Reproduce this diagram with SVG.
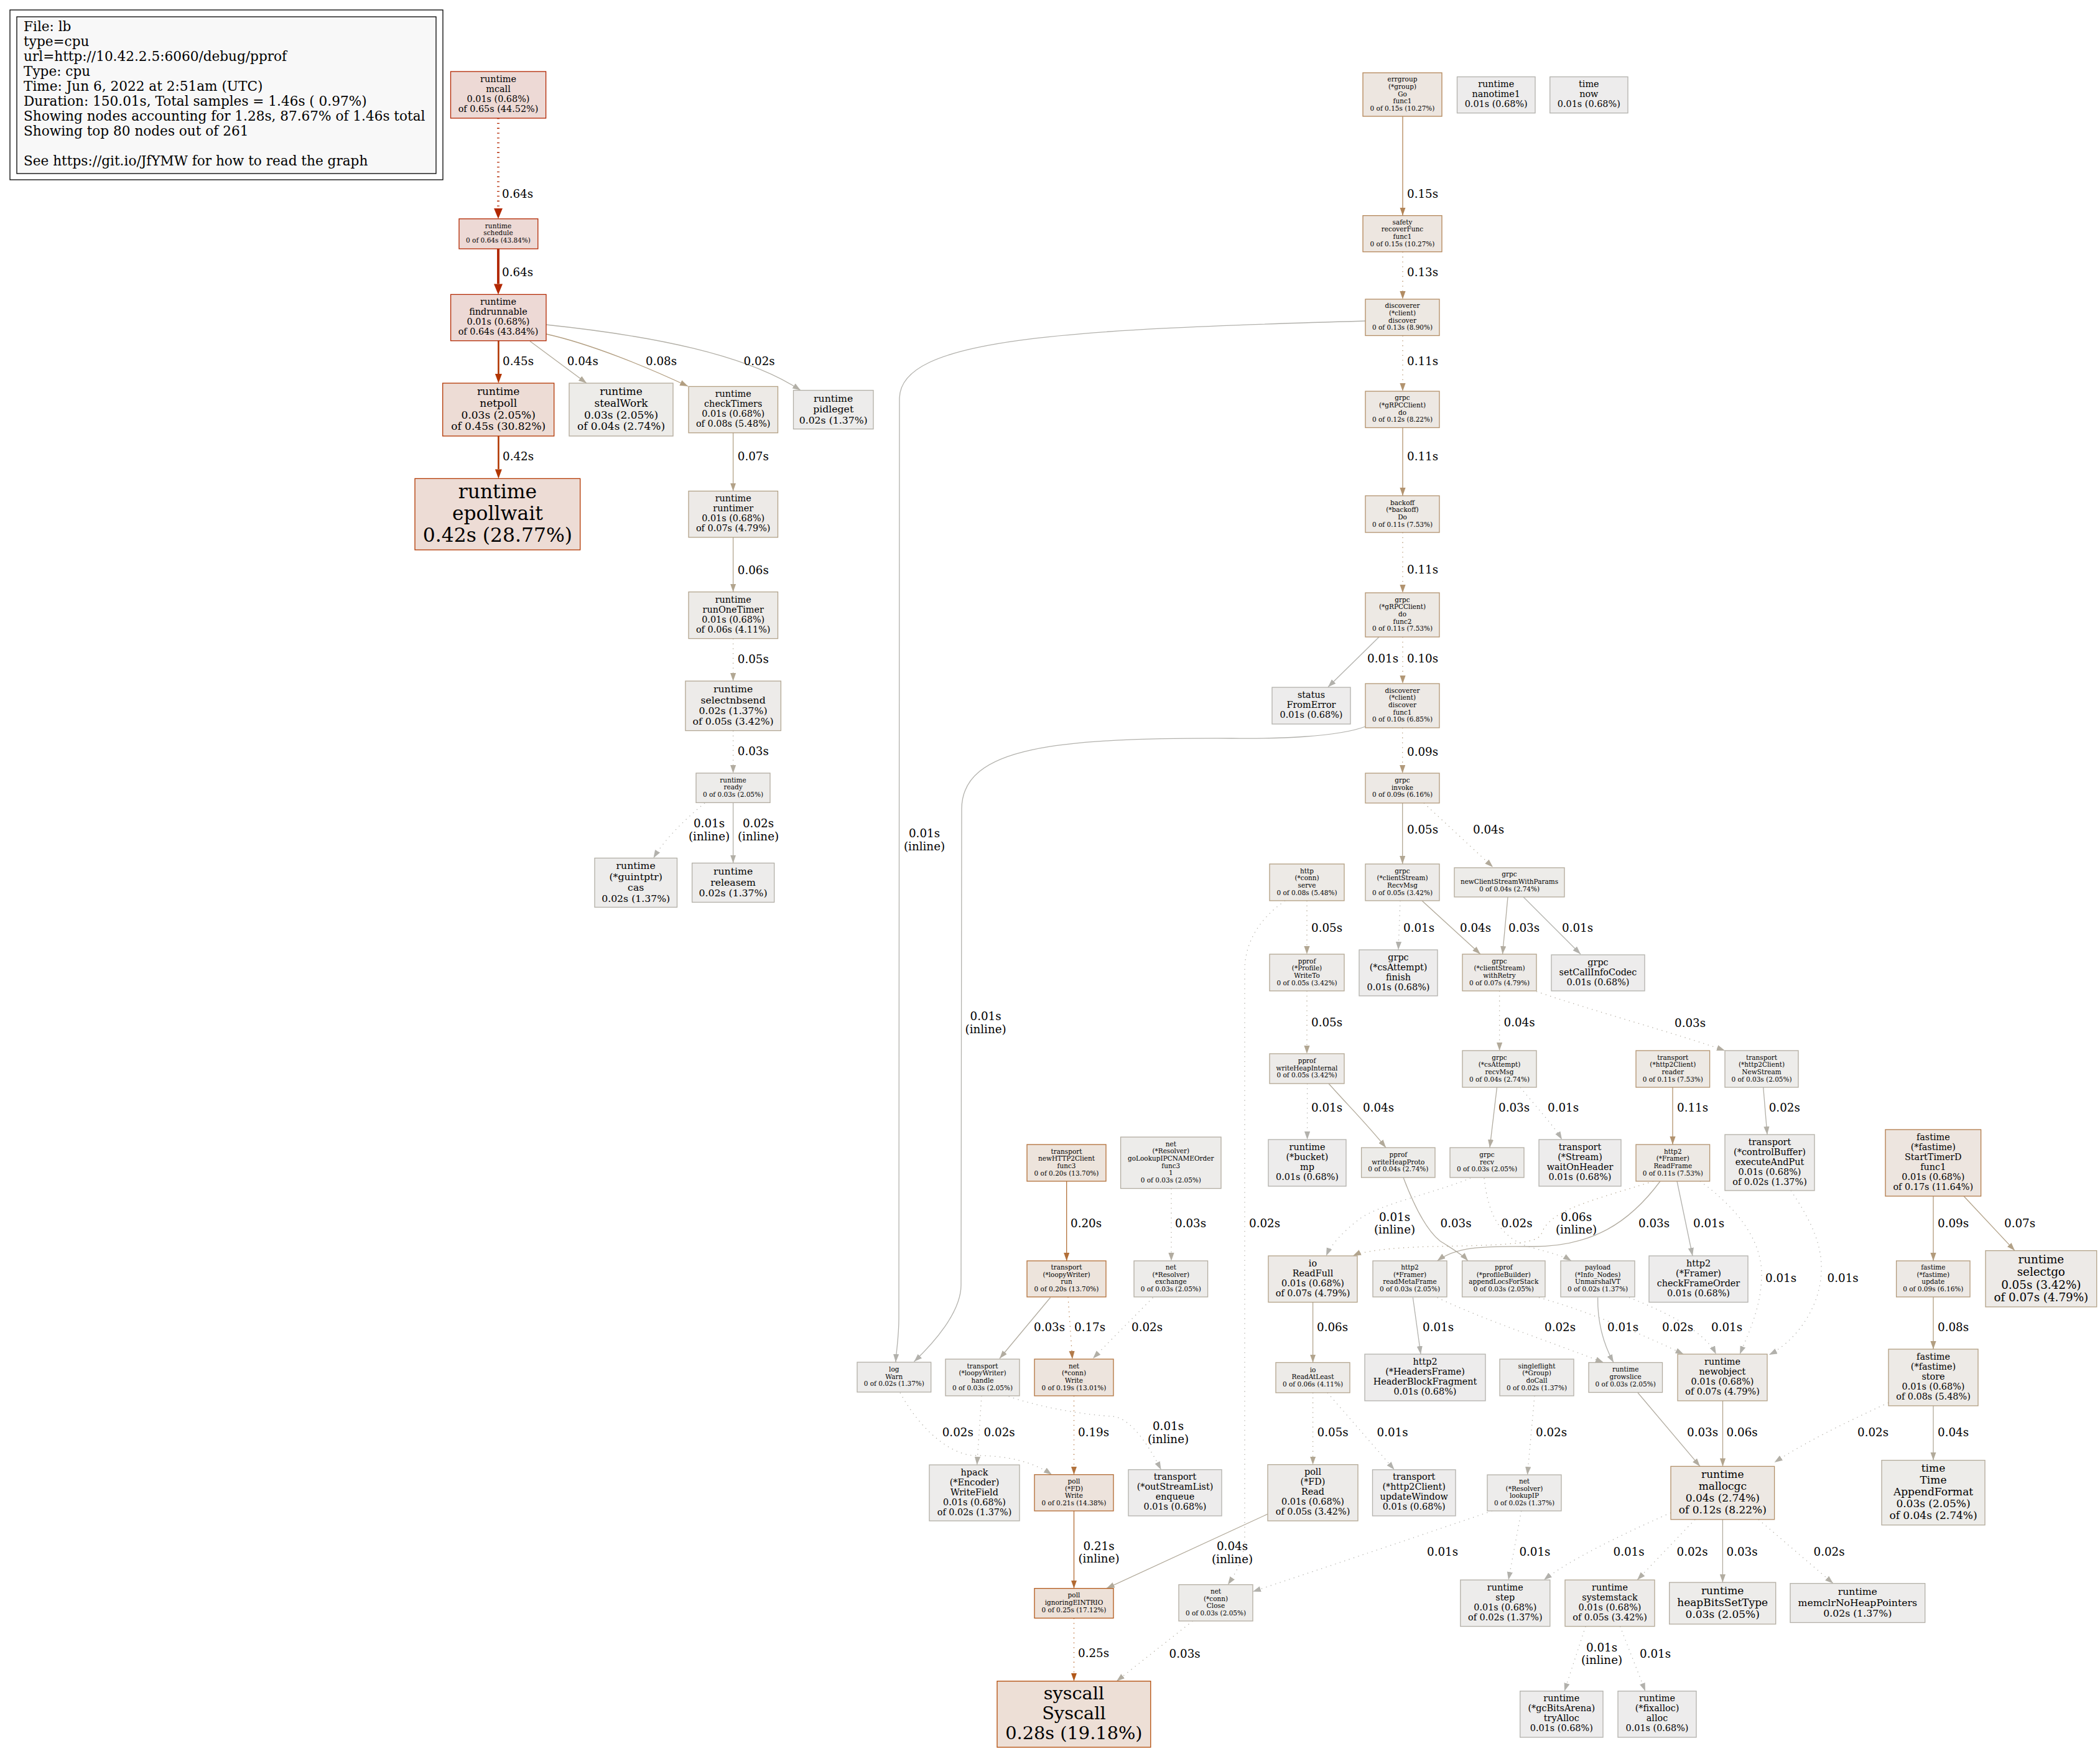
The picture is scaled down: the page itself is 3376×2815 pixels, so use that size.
<svg xmlns="http://www.w3.org/2000/svg" width="3376" height="2815" viewBox="0 0 3376 2815">
<defs>
<style>
text,tspan{font-family:"DejaVu Serif","Liberation Serif",serif;dominant-baseline:central;fill:#000}
.nd text{text-anchor:middle}
.nd rect{stroke-width:1.3}
.f8{font-size:10.5px}.f11{font-size:14.4px}.f12{font-size:15.7px}.f13{font-size:17px}.f14{font-size:18.3px}.f22{font-size:28.8px}.f24{font-size:31.4px}
.el{font-size:18.3px;text-anchor:start}
.el.m{text-anchor:middle}
.lg{font-size:21.6px;text-anchor:start}
.e{fill:none;stroke-width:1.3}
.d{stroke-dasharray:1.3 6.5}
.w3{stroke-width:3.9}.w2{stroke-width:2.6}
.c01 rect{fill:#edecec;stroke:#b2b1ac}.c02 rect{fill:#edeceb;stroke:#b2afa6}.c03 rect{fill:#edecea;stroke:#b2aca0}
.c04 rect{fill:#edece9;stroke:#b2aa9a}.c05 rect{fill:#edebe9;stroke:#b2a793}.c06 rect{fill:#edebe8;stroke:#b2a48d}
.c07 rect{fill:#edeae7;stroke:#b2a187}.c08 rect{fill:#edeae6;stroke:#b29e81}.c09 rect{fill:#ede9e5;stroke:#b29a7b}
.c10 rect{fill:#ede9e5;stroke:#b29775}.c11 rect{fill:#ede9e4;stroke:#b2936f}.c12 rect{fill:#ede8e3;stroke:#b28f69}
.c13 rect{fill:#ede8e2;stroke:#b28c63}.c15 rect{fill:#ede6e0;stroke:#b28456}.c17 rect{fill:#ede5df;stroke:#b27b4a}
.c19 rect{fill:#ede4dd;stroke:#b2733e}.c20 rect{fill:#ede4dc;stroke:#b26f38}.c21 rect{fill:#ede3dc;stroke:#b26a32}
.c25 rect{fill:#ede1d8;stroke:#b25819}.c28 rect{fill:#eddfd6;stroke:#b24a07}.c42 rect{fill:#eddcd5;stroke:#b23700}
.c45 rect{fill:#eddcd5;stroke:#b23500}.c64 rect{fill:#edd9d5;stroke:#b22700}.c65 rect{fill:#edd9d5;stroke:#b22600}
.k01{stroke:#b2b1ac;marker-end:url(#a01)}.k02{stroke:#b2afa6;marker-end:url(#a02)}.k03{stroke:#b2aca0;marker-end:url(#a03)}
.k04{stroke:#b2aa9a;marker-end:url(#a04)}.k05{stroke:#b2a793;marker-end:url(#a05)}.k06{stroke:#b2a48d;marker-end:url(#a06)}
.k07{stroke:#b2a187;marker-end:url(#a07)}.k08{stroke:#b29e81;marker-end:url(#a08)}.k09{stroke:#b29a7b;marker-end:url(#a09)}
.k10{stroke:#b29775;marker-end:url(#a10)}.k11{stroke:#b2936f;marker-end:url(#a11)}.k13{stroke:#b28c63;marker-end:url(#a13)}
.k15{stroke:#b28456;marker-end:url(#a15)}.k17{stroke:#b27b4a;marker-end:url(#a17)}.k19{stroke:#b2733e;marker-end:url(#a19)}
.k20{stroke:#b26f38;marker-end:url(#a20)}.k21{stroke:#b26a32;marker-end:url(#a21)}.k25{stroke:#b25819;marker-end:url(#a25)}
.k42{stroke:#b23700;marker-end:url(#a42)}.k45{stroke:#b23500;marker-end:url(#a45)}.k64{stroke:#b22700;marker-end:url(#a64)}
</style>
<marker id="a01" markerUnits="userSpaceOnUse" markerWidth="16" markerHeight="12" refX="13" refY="4.6" orient="auto"><path d="M0,0L13,4.6L0,9.2z" fill="#b2b1ac"/></marker>
<marker id="a02" markerUnits="userSpaceOnUse" markerWidth="16" markerHeight="12" refX="13" refY="4.6" orient="auto"><path d="M0,0L13,4.6L0,9.2z" fill="#b2afa6"/></marker>
<marker id="a03" markerUnits="userSpaceOnUse" markerWidth="16" markerHeight="12" refX="13" refY="4.6" orient="auto"><path d="M0,0L13,4.6L0,9.2z" fill="#b2aca0"/></marker>
<marker id="a04" markerUnits="userSpaceOnUse" markerWidth="16" markerHeight="12" refX="13" refY="4.6" orient="auto"><path d="M0,0L13,4.6L0,9.2z" fill="#b2aa9a"/></marker>
<marker id="a05" markerUnits="userSpaceOnUse" markerWidth="16" markerHeight="12" refX="13" refY="4.6" orient="auto"><path d="M0,0L13,4.6L0,9.2z" fill="#b2a793"/></marker>
<marker id="a06" markerUnits="userSpaceOnUse" markerWidth="16" markerHeight="12" refX="13" refY="4.6" orient="auto"><path d="M0,0L13,4.6L0,9.2z" fill="#b2a48d"/></marker>
<marker id="a07" markerUnits="userSpaceOnUse" markerWidth="16" markerHeight="12" refX="13" refY="4.6" orient="auto"><path d="M0,0L13,4.6L0,9.2z" fill="#b2a187"/></marker>
<marker id="a08" markerUnits="userSpaceOnUse" markerWidth="16" markerHeight="12" refX="13" refY="4.6" orient="auto"><path d="M0,0L13,4.6L0,9.2z" fill="#b29e81"/></marker>
<marker id="a09" markerUnits="userSpaceOnUse" markerWidth="16" markerHeight="12" refX="13" refY="4.6" orient="auto"><path d="M0,0L13,4.6L0,9.2z" fill="#b29a7b"/></marker>
<marker id="a10" markerUnits="userSpaceOnUse" markerWidth="16" markerHeight="12" refX="13" refY="4.6" orient="auto"><path d="M0,0L13,4.6L0,9.2z" fill="#b29775"/></marker>
<marker id="a11" markerUnits="userSpaceOnUse" markerWidth="16" markerHeight="12" refX="13" refY="4.6" orient="auto"><path d="M0,0L13,4.6L0,9.2z" fill="#b2936f"/></marker>
<marker id="a13" markerUnits="userSpaceOnUse" markerWidth="16" markerHeight="12" refX="13" refY="4.6" orient="auto"><path d="M0,0L13,4.6L0,9.2z" fill="#b28c63"/></marker>
<marker id="a15" markerUnits="userSpaceOnUse" markerWidth="16" markerHeight="12" refX="13" refY="4.6" orient="auto"><path d="M0,0L13,4.6L0,9.2z" fill="#b28456"/></marker>
<marker id="a17" markerUnits="userSpaceOnUse" markerWidth="16" markerHeight="12" refX="13" refY="4.6" orient="auto"><path d="M0,0L13,4.6L0,9.2z" fill="#b27b4a"/></marker>
<marker id="a19" markerUnits="userSpaceOnUse" markerWidth="16" markerHeight="12" refX="13" refY="4.6" orient="auto"><path d="M0,0L13,4.6L0,9.2z" fill="#b2733e"/></marker>
<marker id="a20" markerUnits="userSpaceOnUse" markerWidth="16" markerHeight="12" refX="13" refY="4.6" orient="auto"><path d="M0,0L13,4.6L0,9.2z" fill="#b26f38"/></marker>
<marker id="a21" markerUnits="userSpaceOnUse" markerWidth="16" markerHeight="12" refX="13" refY="4.6" orient="auto"><path d="M0,0L13,4.6L0,9.2z" fill="#b26a32"/></marker>
<marker id="a25" markerUnits="userSpaceOnUse" markerWidth="16" markerHeight="12" refX="13" refY="4.6" orient="auto"><path d="M0,0L13,4.6L0,9.2z" fill="#b25819"/></marker>
<marker id="a42" markerUnits="userSpaceOnUse" markerWidth="16" markerHeight="12" refX="0" refY="5.5" orient="auto"><path d="M0,0L15,5.5L0,11z" fill="#b23700"/></marker>
<marker id="a45" markerUnits="userSpaceOnUse" markerWidth="16" markerHeight="12" refX="0" refY="5.5" orient="auto"><path d="M0,0L15,5.5L0,11z" fill="#b23500"/></marker>
<marker id="a64" markerUnits="userSpaceOnUse" markerWidth="18" markerHeight="15" refX="0" refY="7" orient="auto"><path d="M0,0L17,7L0,14z" fill="#b22700"/></marker>
</defs>
<rect x="0" y="0" width="3376" height="2815" fill="#fff"/>
<g id="legend">
<rect x="16" y="16" width="696" height="273" fill="#fff" stroke="#000" stroke-width="1.3"/>
<rect x="27" y="27" width="674" height="252" fill="#f8f8f8" stroke="#000" stroke-width="1.3"/>
<text class="lg" x="38" y="42"><tspan x="38">File: lb</tspan><tspan x="38" dy="24">type=cpu</tspan><tspan x="38" dy="24">url=http://10.42.2.5:6060/debug/pprof</tspan><tspan x="38" dy="24">Type: cpu</tspan><tspan x="38" dy="24">Time: Jun 6, 2022 at 2:51am (UTC)</tspan><tspan x="38" dy="24">Duration: 150.01s, Total samples = 1.46s ( 0.97%)</tspan><tspan x="38" dy="24">Showing nodes accounting for 1.28s, 87.67% of 1.46s total</tspan><tspan x="38" dy="24">Showing top 80 nodes out of 261</tspan><tspan x="38" dy="48">See https://git.io/JfYMW for how to read the graph</tspan></text>
</g>
<g id="edges">
<path class="e d w3 k64" d="M801,190V334.8"/>
<path class="e w3 k64" d="M801,400V456.4"/>
<path class="e w2 k45" d="M801.4,547.8V601"/>
<path class="e w2 k42" d="M801.4,701V754.4"/>
<path class="e k04" d="M852,548.4L943,616"/>
<path class="e k08" d="M878,537C950,553 1040,590 1106,621"/>
<path class="e k02" d="M878,522C1050,540 1200,570 1287,627.5"/>
<path class="e k07" d="M1178.6,695.8V789.5"/>
<path class="e k06" d="M1178.6,863.8V951.6"/>
<path class="e d k05" d="M1178.6,1026.6V1094.9"/>
<path class="e d k03" d="M1178.6,1174.6V1242.9"/>
<path class="e d k01" d="M1133,1291C1100,1318 1068,1350 1050.5,1379.5"/>
<path class="e k02" d="M1178.6,1290.4V1387.5"/>
<path class="e k15" d="M2255,187V346.6"/>
<path class="e d k13" d="M2255,404.8V481"/>
<path class="e d k11" d="M2255,539.5V629"/>
<path class="e k11" d="M2255,687.5V797"/>
<path class="e d k11" d="M2255,856V953"/>
<path class="e k01" d="M2217,1024L2135,1104.5"/>
<path class="e d k10" d="M2255,1024V1099"/>
<path class="e k01" d="M2195,516C1700,530 1448,545 1446,640L1445,2120C1445,2150 1441,2170 1440,2190"/>
<path class="e k01" d="M2195,1168C2150,1185 2050,1188 1980,1187C1700,1186 1547,1200 1546,1300L1545,2066C1545,2110 1500,2160 1469.5,2189"/>
<path class="e d k09" d="M2254.7,1170V1243"/>
<path class="e k05" d="M2254.7,1291V1389"/>
<path class="e d k04" d="M2289,1291L2400,1394"/>
<path class="e d k05" d="M2101,1448V1534"/>
<path class="e d k02" d="M2066,1448C2020,1480 2001,1520 2001,1560L2001,2470C2001,2505 1987,2528 1974,2547.6"/>
<path class="e d k01" d="M2251,1448L2248,1527"/>
<path class="e k04" d="M2286,1448L2380,1534"/>
<path class="e k03" d="M2424,1442L2415.5,1534"/>
<path class="e k01" d="M2449,1442L2541,1534"/>
<path class="e d k05" d="M2101,1593V1694"/>
<path class="e d k04" d="M2410.6,1593V1689"/>
<path class="e d k03" d="M2470,1594C2560,1625 2690,1660 2773,1689"/>
<path class="e d k01" d="M2101.6,1742V1832"/>
<path class="e k04" d="M2136,1742C2170,1780 2200,1810 2228,1845"/>
<path class="e k03" d="M2406.5,1748L2395,1845"/>
<path class="e d k01" d="M2444,1748C2470,1780 2498,1810 2511,1832"/>
<path class="e k11" d="M2689,1748V1840"/>
<path class="e k02" d="M2834.7,1748L2841,1824"/>
<path class="e k03" d="M2256,1893C2270,1930 2290,1975 2315,1995C2335,2008 2350,2016 2360,2027"/>
<path class="e d k01" d="M2364,1894C2300,1920 2220,1935 2185,1960C2160,1980 2140,2000 2132,2019"/>
<path class="e d k02" d="M2386,1894C2392,1950 2410,1990 2460,2005C2490,2013 2515,2020 2526,2027"/>
<path class="e d k06" d="M2658,1899C2560,1930 2490,1945 2478,1984C2470,2000 2420,2002 2300,2004C2230,2006 2190,2012 2175,2019"/>
<path class="e k03" d="M2669,1899C2620,1965 2560,2005 2460,2004C2380,2003 2340,2005 2310.6,2027"/>
<path class="e k01" d="M2696,1899L2721,2019"/>
<path class="e d k01" d="M2733,1899C2790,1940 2830,1990 2832,2045C2833,2100 2810,2145 2797,2177"/>
<path class="e d k01" d="M2879,1914C2910,1960 2930,2000 2928,2045C2925,2110 2880,2160 2844,2178"/>
<path class="e k09" d="M3108,1923V2027"/>
<path class="e k07" d="M3157,1923L3239,2010.6"/>
<path class="e k20" d="M1714.7,1899V2027"/>
<path class="e d k03" d="M1883,1910.6V2027"/>
<path class="e k03" d="M1688.6,2086L1607,2184"/>
<path class="e d k17" d="M1717,2085L1724,2185"/>
<path class="e d k02" d="M1853.5,2086C1820,2120 1790,2150 1757,2184"/>
<path class="e k06" d="M2110.6,2093.5V2190.5"/>
<path class="e k01" d="M2271.4,2086L2284,2177"/>
<path class="e d k02" d="M2310.6,2086C2380,2120 2500,2160 2578,2190.5"/>
<path class="e d k02" d="M2474,2086C2560,2110 2650,2150 2706.5,2177"/>
<path class="e k01" d="M2568.6,2086C2568,2130 2580,2165 2594,2190.5"/>
<path class="e d k01" d="M2619,2086C2680,2110 2740,2140 2758.8,2177"/>
<path class="e k08" d="M3108,2085V2169"/>
<path class="e k04" d="M3108,2260V2347.6"/>
<path class="e d k02" d="M3036,2255C2960,2290 2900,2320 2852.6,2351"/>
<path class="e k06" d="M2769.5,2252V2357.4"/>
<path class="e k03" d="M2633,2239L2733,2357.4"/>
<path class="e d k02" d="M1447,2239C1480,2300 1530,2340 1568,2340C1620,2340 1660,2350 1691,2370.7"/>
<path class="e d k02" d="M1578,2244L1570.6,2355"/>
<path class="e d k01" d="M1621.6,2245C1680,2265 1750,2275 1789,2277C1820,2280 1850,2330 1866.5,2362.7"/>
<path class="e d k19" d="M1726.5,2244V2370.7"/>
<path class="e d k05" d="M2110.6,2239V2354.6"/>
<path class="e d k01" d="M2134,2239L2241.6,2362.8"/>
<path class="e d k02" d="M2467,2244L2455.5,2371"/>
<path class="e k21" d="M1726.5,2429V2553.6"/>
<path class="e k04" d="M2038,2434L1778.8,2553.6"/>
<path class="e d k01" d="M2398.8,2429C2250,2480 2100,2530 2014,2558.7"/>
<path class="e d k01" d="M2445.7,2429L2425,2540"/>
<path class="e d k01" d="M2686,2432C2600,2470 2520,2510 2482,2540"/>
<path class="e d k02" d="M2725,2442.8L2632,2540"/>
<path class="e k03" d="M2769.4,2442.8V2544"/>
<path class="e d k02" d="M2827,2442.8L2947,2545.6"/>
<path class="e d k25" d="M1726.5,2601.4V2702.7"/>
<path class="e d k03" d="M1917.5,2606L1795,2702.7"/>
<path class="e d k01" d="M2549,2614.6L2515,2718.7"/>
<path class="e d k01" d="M2604.5,2614.6L2645,2718.7"/>
</g>
<g id="edge-labels">
<text class="el" x="807" y="311.6">0.64s</text>
<text class="el" x="807" y="437.5">0.64s</text>
<text class="el" x="808" y="580.6">0.45s</text>
<text class="el" x="911.7" y="580.6">0.04s</text>
<text class="el" x="1038" y="580.6">0.08s</text>
<text class="el" x="1195.6" y="580.6">0.02s</text>
<text class="el" x="808" y="733">0.42s</text>
<text class="el" x="1185.8" y="733">0.07s</text>
<text class="el" x="1185.8" y="916">0.06s</text>
<text class="el" x="1185.8" y="1059">0.05s</text>
<text class="el" x="1185.8" y="1207">0.03s</text>
<text class="el m" x="1140" y="1323"><tspan x="1140">0.01s</tspan><tspan x="1140" dy="21">(inline)</tspan></text>
<text class="el m" x="1219" y="1323"><tspan x="1219">0.02s</tspan><tspan x="1219" dy="21">(inline)</tspan></text>
<text class="el" x="2262" y="311.5">0.15s</text>
<text class="el" x="2262" y="437.8">0.13s</text>
<text class="el" x="2262" y="580">0.11s</text>
<text class="el" x="2262" y="733">0.11s</text>
<text class="el" x="2262" y="915.5">0.11s</text>
<text class="el" x="2198" y="1058.6">0.01s</text>
<text class="el" x="2262" y="1058.6">0.10s</text>
<text class="el m" x="1486" y="1339"><tspan x="1486">0.01s</tspan><tspan x="1486" dy="21">(inline)</tspan></text>
<text class="el m" x="1584.6" y="1633"><tspan x="1584.6">0.01s</tspan><tspan x="1584.6" dy="21">(inline)</tspan></text>
<text class="el" x="2262" y="1208">0.09s</text>
<text class="el" x="2262" y="1333">0.05s</text>
<text class="el" x="2368" y="1333">0.04s</text>
<text class="el" x="2108" y="1491">0.05s</text>
<text class="el" x="2008" y="1966">0.02s</text>
<text class="el" x="2256" y="1491">0.01s</text>
<text class="el" x="2347" y="1491">0.04s</text>
<text class="el" x="2425" y="1491">0.03s</text>
<text class="el" x="2511" y="1491">0.01s</text>
<text class="el" x="2108" y="1643">0.05s</text>
<text class="el" x="2417.5" y="1643">0.04s</text>
<text class="el" x="2692" y="1644">0.03s</text>
<text class="el" x="2108" y="1780">0.01s</text>
<text class="el" x="2191" y="1780">0.04s</text>
<text class="el" x="2409" y="1780">0.03s</text>
<text class="el" x="2488" y="1780">0.01s</text>
<text class="el" x="2696" y="1780">0.11s</text>
<text class="el" x="2843.7" y="1780">0.02s</text>
<text class="el" x="2315.5" y="1966">0.03s</text>
<text class="el m" x="2242" y="1955.5"><tspan x="2242">0.01s</tspan><tspan x="2242" dy="20.5">(inline)</tspan></text>
<text class="el" x="2413.5" y="1966">0.02s</text>
<text class="el m" x="2534" y="1955.5"><tspan x="2534">0.06s</tspan><tspan x="2534" dy="20.5">(inline)</tspan></text>
<text class="el" x="2634" y="1966">0.03s</text>
<text class="el" x="2722" y="1966">0.01s</text>
<text class="el" x="2838" y="2054">0.01s</text>
<text class="el" x="2937.6" y="2054">0.01s</text>
<text class="el" x="3115" y="1966">0.09s</text>
<text class="el" x="3222" y="1966">0.07s</text>
<text class="el" x="1721" y="1966">0.20s</text>
<text class="el" x="1889" y="1966">0.03s</text>
<text class="el" x="1662" y="2133.5">0.03s</text>
<text class="el" x="1727" y="2133.5">0.17s</text>
<text class="el" x="1819" y="2133.5">0.02s</text>
<text class="el" x="2117" y="2133.5">0.06s</text>
<text class="el" x="2287" y="2133.5">0.01s</text>
<text class="el" x="2483" y="2133.5">0.02s</text>
<text class="el" x="2672" y="2133.5">0.02s</text>
<text class="el" x="2584" y="2133.5">0.01s</text>
<text class="el" x="2751" y="2133.5">0.01s</text>
<text class="el" x="3115" y="2133.5">0.08s</text>
<text class="el" x="3115" y="2302">0.04s</text>
<text class="el" x="2986" y="2302">0.02s</text>
<text class="el" x="2775.6" y="2302">0.06s</text>
<text class="el" x="2712" y="2302.8">0.03s</text>
<text class="el" x="1514.7" y="2302.7">0.02s</text>
<text class="el" x="1581.6" y="2302.7">0.02s</text>
<text class="el m" x="1878" y="2292"><tspan x="1878">0.01s</tspan><tspan x="1878" dy="21">(inline)</tspan></text>
<text class="el" x="1733" y="2302.7">0.19s</text>
<text class="el" x="2117.6" y="2302.8">0.05s</text>
<text class="el" x="2213.5" y="2302.8">0.01s</text>
<text class="el" x="2469" y="2302.8">0.02s</text>
<text class="el m" x="1766.5" y="2484.5"><tspan x="1766.5">0.21s</tspan><tspan x="1766.5" dy="20.5">(inline)</tspan></text>
<text class="el m" x="1981" y="2485"><tspan x="1981">0.04s</tspan><tspan x="1981" dy="20.5">(inline)</tspan></text>
<text class="el" x="2294" y="2494.6">0.01s</text>
<text class="el" x="2442.4" y="2494.6">0.01s</text>
<text class="el" x="2593.5" y="2494.6">0.01s</text>
<text class="el" x="2695.5" y="2494.6">0.02s</text>
<text class="el" x="2775.5" y="2494.6">0.03s</text>
<text class="el" x="2915.5" y="2494.6">0.02s</text>
<text class="el" x="1733" y="2657.6">0.25s</text>
<text class="el" x="1879.6" y="2658">0.03s</text>
<text class="el m" x="2575" y="2647.6"><tspan x="2575">0.01s</tspan><tspan x="2575" dy="20.5">(inline)</tspan></text>
<text class="el" x="2636" y="2658">0.01s</text>
</g>
<g id="node-mcall" class="nd c65"><rect x="724.5" y="115" width="153.1" height="75"/><text class="f11" x="801" y="127"><tspan x="801">runtime</tspan><tspan x="801" dy="16">mcall</tspan><tspan x="801" dy="16">0.01s (0.68%)</tspan><tspan x="801" dy="16">of 0.65s (44.52%)</tspan></text></g>
<g id="node-schedule" class="nd c64"><rect x="738" y="351.8" width="126.8" height="48.2"/><text class="f8" x="801" y="362.7"><tspan x="801">runtime</tspan><tspan x="801" dy="11.7">schedule</tspan><tspan x="801" dy="11.7">0 of 0.64s (43.84%)</tspan></text></g>
<g id="node-findrunnable" class="nd c64"><rect x="724.6" y="473.4" width="153.4" height="74.4"/><text class="f11" x="801" y="485.1"><tspan x="801">runtime</tspan><tspan x="801" dy="16">findrunnable</tspan><tspan x="801" dy="16">0.01s (0.68%)</tspan><tspan x="801" dy="16">of 0.64s (43.84%)</tspan></text></g>
<g id="node-netpoll" class="nd c45"><rect x="711.7" y="616" width="179" height="85"/><text class="f13" x="801.2" y="628.7"><tspan x="801.2">runtime</tspan><tspan x="801.2" dy="18.9">netpoll</tspan><tspan x="801.2" dy="18.9">0.03s (2.05%)</tspan><tspan x="801.2" dy="18.9">of 0.45s (30.82%)</tspan></text></g>
<g id="node-stealWork" class="nd c04"><rect x="915" y="616" width="167" height="85"/><text class="f13" x="998.5" y="628.7"><tspan x="998.5">runtime</tspan><tspan x="998.5" dy="18.9">stealWork</tspan><tspan x="998.5" dy="18.9">0.03s (2.05%)</tspan><tspan x="998.5" dy="18.9">of 0.04s (2.74%)</tspan></text></g>
<g id="node-checkTimers" class="nd c08"><rect x="1107" y="621.4" width="143.5" height="74.4"/><text class="f11" x="1178.7" y="633.1"><tspan x="1178.7">runtime</tspan><tspan x="1178.7" dy="16">checkTimers</tspan><tspan x="1178.7" dy="16">0.01s (0.68%)</tspan><tspan x="1178.7" dy="16">of 0.08s (5.48%)</tspan></text></g>
<g id="node-pidleget" class="nd c02"><rect x="1275.5" y="627.5" width="128.5" height="62.2"/><text class="f12" x="1339.7" y="639.7"><tspan x="1339.7">runtime</tspan><tspan x="1339.7" dy="17.4">pidleget</tspan><tspan x="1339.7" dy="17.4">0.02s (1.37%)</tspan></text></g>
<g id="node-epollwait" class="nd c42"><rect x="667" y="769.4" width="265.7" height="114.6"/><text class="f24" x="799.9" y="790.2"><tspan x="799.9">runtime</tspan><tspan x="799.9" dy="35">epollwait</tspan><tspan x="799.9" dy="35">0.42s (28.77%)</tspan></text></g>
<g id="node-runtimer" class="nd c07"><rect x="1107" y="789.5" width="143.5" height="74.3"/><text class="f11" x="1178.7" y="801.2"><tspan x="1178.7">runtime</tspan><tspan x="1178.7" dy="16">runtimer</tspan><tspan x="1178.7" dy="16">0.01s (0.68%)</tspan><tspan x="1178.7" dy="16">of 0.07s (4.79%)</tspan></text></g>
<g id="node-runOneTimer" class="nd c06"><rect x="1107" y="951.6" width="143.5" height="75"/><text class="f11" x="1178.7" y="963.6"><tspan x="1178.7">runtime</tspan><tspan x="1178.7" dy="16">runOneTimer</tspan><tspan x="1178.7" dy="16">0.01s (0.68%)</tspan><tspan x="1178.7" dy="16">of 0.06s (4.11%)</tspan></text></g>
<g id="node-selectnbsend" class="nd c05"><rect x="1101.9" y="1094.9" width="153.5" height="79.7"/><text class="f12" x="1178.6" y="1107.2"><tspan x="1178.6">runtime</tspan><tspan x="1178.6" dy="17.4">selectnbsend</tspan><tspan x="1178.6" dy="17.4">0.02s (1.37%)</tspan><tspan x="1178.6" dy="17.4">of 0.05s (3.42%)</tspan></text></g>
<g id="node-ready" class="nd c03"><rect x="1119" y="1242.9" width="119" height="47.5"/><text class="f8" x="1178.5" y="1253.5"><tspan x="1178.5">runtime</tspan><tspan x="1178.5" dy="11.7">ready</tspan><tspan x="1178.5" dy="11.7">0 of 0.03s (2.05%)</tspan></text></g>
<g id="node-cas" class="nd c02"><rect x="956" y="1379.5" width="132.5" height="79"/><text class="f12" x="1022.2" y="1391.4"><tspan x="1022.2">runtime</tspan><tspan x="1022.2" dy="17.4">(*guintptr)</tspan><tspan x="1022.2" dy="17.4">cas</tspan><tspan x="1022.2" dy="17.4">0.02s (1.37%)</tspan></text></g>
<g id="node-releasem" class="nd c02"><rect x="1112.6" y="1387.5" width="132.1" height="63"/><text class="f12" x="1178.6" y="1400.1"><tspan x="1178.6">runtime</tspan><tspan x="1178.6" dy="17.4">releasem</tspan><tspan x="1178.6" dy="17.4">0.02s (1.37%)</tspan></text></g>
<g id="node-errgroup" class="nd c15"><rect x="2191" y="117" width="127" height="70"/><text class="f8" x="2254.5" y="127.1"><tspan x="2254.5">errgroup</tspan><tspan x="2254.5" dy="11.7">(*group)</tspan><tspan x="2254.5" dy="11.7">Go</tspan><tspan x="2254.5" dy="11.7">func1</tspan><tspan x="2254.5" dy="11.7">0 of 0.15s (10.27%)</tspan></text></g>
<g id="node-nanotime1" class="nd c01"><rect x="2342.5" y="123.5" width="125.5" height="58.2"/><text class="f11" x="2405.2" y="135.1"><tspan x="2405.2">runtime</tspan><tspan x="2405.2" dy="16">nanotime1</tspan><tspan x="2405.2" dy="16">0.01s (0.68%)</tspan></text></g>
<g id="node-timenow" class="nd c01"><rect x="2491.7" y="123.5" width="125.3" height="58.2"/><text class="f11" x="2554.3" y="135.1"><tspan x="2554.3">time</tspan><tspan x="2554.3" dy="16">now</tspan><tspan x="2554.3" dy="16">0.01s (0.68%)</tspan></text></g>
<g id="node-safety" class="nd c15"><rect x="2191" y="346.6" width="127" height="58.2"/><text class="f8" x="2254.5" y="356.7"><tspan x="2254.5">safety</tspan><tspan x="2254.5" dy="11.7">recoverFunc</tspan><tspan x="2254.5" dy="11.7">func1</tspan><tspan x="2254.5" dy="11.7">0 of 0.15s (10.27%)</tspan></text></g>
<g id="node-discover" class="nd c13"><rect x="2195" y="481" width="119" height="58.5"/><text class="f8" x="2254.5" y="491.2"><tspan x="2254.5">discoverer</tspan><tspan x="2254.5" dy="11.7">(*client)</tspan><tspan x="2254.5" dy="11.7">discover</tspan><tspan x="2254.5" dy="11.7">0 of 0.13s (8.90%)</tspan></text></g>
<g id="node-grpcdo" class="nd c12"><rect x="2195" y="629" width="119" height="58.5"/><text class="f8" x="2254.5" y="639.2"><tspan x="2254.5">grpc</tspan><tspan x="2254.5" dy="11.7">(*gRPCClient)</tspan><tspan x="2254.5" dy="11.7">do</tspan><tspan x="2254.5" dy="11.7">0 of 0.12s (8.22%)</tspan></text></g>
<g id="node-backoff" class="nd c11"><rect x="2195" y="797" width="119" height="59"/><text class="f8" x="2254.5" y="807.5"><tspan x="2254.5">backoff</tspan><tspan x="2254.5" dy="11.7">(*backoff)</tspan><tspan x="2254.5" dy="11.7">Do</tspan><tspan x="2254.5" dy="11.7">0 of 0.11s (7.53%)</tspan></text></g>
<g id="node-dofunc2" class="nd c11"><rect x="2195" y="953" width="119" height="71"/><text class="f8" x="2254.5" y="963.6"><tspan x="2254.5">grpc</tspan><tspan x="2254.5" dy="11.7">(*gRPCClient)</tspan><tspan x="2254.5" dy="11.7">do</tspan><tspan x="2254.5" dy="11.7">func2</tspan><tspan x="2254.5" dy="11.7">0 of 0.11s (7.53%)</tspan></text></g>
<g id="node-FromError" class="nd c01"><rect x="2045" y="1105" width="126" height="59"/><text class="f11" x="2108" y="1117"><tspan x="2108">status</tspan><tspan x="2108" dy="16">FromError</tspan><tspan x="2108" dy="16">0.01s (0.68%)</tspan></text></g>
<g id="node-discoverfunc1" class="nd c10"><rect x="2195" y="1099" width="119" height="71"/><text class="f8" x="2254.5" y="1109.6"><tspan x="2254.5">discoverer</tspan><tspan x="2254.5" dy="11.7">(*client)</tspan><tspan x="2254.5" dy="11.7">discover</tspan><tspan x="2254.5" dy="11.7">func1</tspan><tspan x="2254.5" dy="11.7">0 of 0.10s (6.85%)</tspan></text></g>
<g id="node-invoke" class="nd c09"><rect x="2195" y="1243" width="119" height="48"/><text class="f8" x="2254.5" y="1253.8"><tspan x="2254.5">grpc</tspan><tspan x="2254.5" dy="11.7">invoke</tspan><tspan x="2254.5" dy="11.7">0 of 0.09s (6.16%)</tspan></text></g>
<g id="node-httpserve" class="nd c08"><rect x="2041" y="1389" width="120" height="59"/><text class="f8" x="2101" y="1399.5"><tspan x="2101">http</tspan><tspan x="2101" dy="11.7">(*conn)</tspan><tspan x="2101" dy="11.7">serve</tspan><tspan x="2101" dy="11.7">0 of 0.08s (5.48%)</tspan></text></g>
<g id="node-RecvMsg" class="nd c05"><rect x="2195" y="1389" width="119" height="59"/><text class="f8" x="2254.5" y="1399.5"><tspan x="2254.5">grpc</tspan><tspan x="2254.5" dy="11.7">(*clientStream)</tspan><tspan x="2254.5" dy="11.7">RecvMsg</tspan><tspan x="2254.5" dy="11.7">0 of 0.05s (3.42%)</tspan></text></g>
<g id="node-newClientStreamWithParams" class="nd c04"><rect x="2338" y="1395" width="177" height="47"/><text class="f8" x="2426.5" y="1405.3"><tspan x="2426.5">grpc</tspan><tspan x="2426.5" dy="11.7">newClientStreamWithParams</tspan><tspan x="2426.5" dy="11.7">0 of 0.04s (2.74%)</tspan></text></g>
<g id="node-WriteTo" class="nd c05"><rect x="2041" y="1534" width="120" height="59"/><text class="f8" x="2101" y="1544.5"><tspan x="2101">pprof</tspan><tspan x="2101" dy="11.7">(*Profile)</tspan><tspan x="2101" dy="11.7">WriteTo</tspan><tspan x="2101" dy="11.7">0 of 0.05s (3.42%)</tspan></text></g>
<g id="node-csAttemptfinish" class="nd c01"><rect x="2185" y="1527" width="126" height="74"/><text class="f11" x="2248" y="1538.5"><tspan x="2248">grpc</tspan><tspan x="2248" dy="16">(*csAttempt)</tspan><tspan x="2248" dy="16">finish</tspan><tspan x="2248" dy="16">0.01s (0.68%)</tspan></text></g>
<g id="node-withRetry" class="nd c07"><rect x="2351" y="1534" width="119" height="59"/><text class="f8" x="2410.5" y="1544.5"><tspan x="2410.5">grpc</tspan><tspan x="2410.5" dy="11.7">(*clientStream)</tspan><tspan x="2410.5" dy="11.7">withRetry</tspan><tspan x="2410.5" dy="11.7">0 of 0.07s (4.79%)</tspan></text></g>
<g id="node-setCallInfoCodec" class="nd c01"><rect x="2494" y="1535" width="150" height="58"/><text class="f11" x="2569" y="1546.5"><tspan x="2569">grpc</tspan><tspan x="2569" dy="16">setCallInfoCodec</tspan><tspan x="2569" dy="16">0.01s (0.68%)</tspan></text></g>
<g id="node-writeHeapInternal" class="nd c05"><rect x="2041" y="1694" width="120" height="48"/><text class="f8" x="2101" y="1704.8"><tspan x="2101">pprof</tspan><tspan x="2101" dy="11.7">writeHeapInternal</tspan><tspan x="2101" dy="11.7">0 of 0.05s (3.42%)</tspan></text></g>
<g id="node-csAttemptrecvMsg" class="nd c04"><rect x="2351" y="1689" width="119" height="59"/><text class="f8" x="2410.5" y="1699.5"><tspan x="2410.5">grpc</tspan><tspan x="2410.5" dy="11.7">(*csAttempt)</tspan><tspan x="2410.5" dy="11.7">recvMsg</tspan><tspan x="2410.5" dy="11.7">0 of 0.04s (2.74%)</tspan></text></g>
<g id="node-reader" class="nd c11"><rect x="2630" y="1689" width="118.6" height="59"/><text class="f8" x="2689.3" y="1699.5"><tspan x="2689.3">transport</tspan><tspan x="2689.3" dy="11.7">(*http2Client)</tspan><tspan x="2689.3" dy="11.7">reader</tspan><tspan x="2689.3" dy="11.7">0 of 0.11s (7.53%)</tspan></text></g>
<g id="node-NewStream" class="nd c03"><rect x="2773" y="1689" width="118" height="59"/><text class="f8" x="2832" y="1699.5"><tspan x="2832">transport</tspan><tspan x="2832" dy="11.7">(*http2Client)</tspan><tspan x="2832" dy="11.7">NewStream</tspan><tspan x="2832" dy="11.7">0 of 0.03s (2.05%)</tspan></text></g>
<g id="node-bucketmp" class="nd c01"><rect x="2039" y="1832" width="125" height="75"/><text class="f11" x="2101.5" y="1844"><tspan x="2101.5">runtime</tspan><tspan x="2101.5" dy="16">(*bucket)</tspan><tspan x="2101.5" dy="16">mp</tspan><tspan x="2101.5" dy="16">0.01s (0.68%)</tspan></text></g>
<g id="node-writeHeapProto" class="nd c04"><rect x="2188.6" y="1845" width="118.4" height="48"/><text class="f8" x="2247.8" y="1855.8"><tspan x="2247.8">pprof</tspan><tspan x="2247.8" dy="11.7">writeHeapProto</tspan><tspan x="2247.8" dy="11.7">0 of 0.04s (2.74%)</tspan></text></g>
<g id="node-grpcrecv" class="nd c03"><rect x="2331" y="1845" width="119" height="48"/><text class="f8" x="2390.5" y="1855.8"><tspan x="2390.5">grpc</tspan><tspan x="2390.5" dy="11.7">recv</tspan><tspan x="2390.5" dy="11.7">0 of 0.03s (2.05%)</tspan></text></g>
<g id="node-waitOnHeader" class="nd c01"><rect x="2474" y="1832" width="132" height="75"/><text class="f11" x="2540" y="1844"><tspan x="2540">transport</tspan><tspan x="2540" dy="16">(*Stream)</tspan><tspan x="2540" dy="16">waitOnHeader</tspan><tspan x="2540" dy="16">0.01s (0.68%)</tspan></text></g>
<g id="node-ReadFrame" class="nd c11"><rect x="2630" y="1840" width="118.6" height="59"/><text class="f8" x="2689.3" y="1850.5"><tspan x="2689.3">http2</tspan><tspan x="2689.3" dy="11.7">(*Framer)</tspan><tspan x="2689.3" dy="11.7">ReadFrame</tspan><tspan x="2689.3" dy="11.7">0 of 0.11s (7.53%)</tspan></text></g>
<g id="node-executeAndPut" class="nd c02"><rect x="2773" y="1824" width="144" height="90"/><text class="f11" x="2845" y="1835.5"><tspan x="2845">transport</tspan><tspan x="2845" dy="16">(*controlBuffer)</tspan><tspan x="2845" dy="16">executeAndPut</tspan><tspan x="2845" dy="16">0.01s (0.68%)</tspan><tspan x="2845" dy="16">of 0.02s (1.37%)</tspan></text></g>
<g id="node-StartTimerD" class="nd c17"><rect x="3031" y="1816" width="153.6" height="107"/><text class="f11" x="3107.8" y="1828"><tspan x="3107.8">fastime</tspan><tspan x="3107.8" dy="16">(*fastime)</tspan><tspan x="3107.8" dy="16">StartTimerD</tspan><tspan x="3107.8" dy="16">func1</tspan><tspan x="3107.8" dy="16">0.01s (0.68%)</tspan><tspan x="3107.8" dy="16">of 0.17s (11.64%)</tspan></text></g>
<g id="node-newHTTP2Client" class="nd c20"><rect x="1651" y="1840" width="127" height="59"/><text class="f8" x="1714.5" y="1850.5"><tspan x="1714.5">transport</tspan><tspan x="1714.5" dy="11.7">newHTTP2Client</tspan><tspan x="1714.5" dy="11.7">func3</tspan><tspan x="1714.5" dy="11.7">0 of 0.20s (13.70%)</tspan></text></g>
<g id="node-goLookupIPCNAMEOrder" class="nd c03"><rect x="1801.6" y="1828" width="161.4" height="82.6"/><text class="f8" x="1882.3" y="1838.6"><tspan x="1882.3">net</tspan><tspan x="1882.3" dy="11.7">(*Resolver)</tspan><tspan x="1882.3" dy="11.7">goLookupIPCNAMEOrder</tspan><tspan x="1882.3" dy="11.7">func3</tspan><tspan x="1882.3" dy="11.7">1</tspan><tspan x="1882.3" dy="11.7">0 of 0.03s (2.05%)</tspan></text></g>
<g id="node-loopyWriterrun" class="nd c20"><rect x="1651" y="2027" width="127" height="58"/><text class="f8" x="1714.5" y="2037"><tspan x="1714.5">transport</tspan><tspan x="1714.5" dy="11.7">(*loopyWriter)</tspan><tspan x="1714.5" dy="11.7">run</tspan><tspan x="1714.5" dy="11.7">0 of 0.20s (13.70%)</tspan></text></g>
<g id="node-exchange" class="nd c03"><rect x="1823" y="2027" width="118.6" height="58"/><text class="f8" x="1882.3" y="2037"><tspan x="1882.3">net</tspan><tspan x="1882.3" dy="11.7">(*Resolver)</tspan><tspan x="1882.3" dy="11.7">exchange</tspan><tspan x="1882.3" dy="11.7">0 of 0.03s (2.05%)</tspan></text></g>
<g id="node-ReadFull" class="nd c07"><rect x="2039" y="2019" width="143" height="74.5"/><text class="f11" x="2110.5" y="2030.8"><tspan x="2110.5">io</tspan><tspan x="2110.5" dy="16">ReadFull</tspan><tspan x="2110.5" dy="16">0.01s (0.68%)</tspan><tspan x="2110.5" dy="16">of 0.07s (4.79%)</tspan></text></g>
<g id="node-readMetaFrame" class="nd c03"><rect x="2207" y="2027" width="119" height="58"/><text class="f8" x="2266.5" y="2037"><tspan x="2266.5">http2</tspan><tspan x="2266.5" dy="11.7">(*Framer)</tspan><tspan x="2266.5" dy="11.7">readMetaFrame</tspan><tspan x="2266.5" dy="11.7">0 of 0.03s (2.05%)</tspan></text></g>
<g id="node-appendLocsForStack" class="nd c03"><rect x="2350.6" y="2027" width="133.4" height="58"/><text class="f8" x="2417.3" y="2037"><tspan x="2417.3">pprof</tspan><tspan x="2417.3" dy="11.7">(*profileBuilder)</tspan><tspan x="2417.3" dy="11.7">appendLocsForStack</tspan><tspan x="2417.3" dy="11.7">0 of 0.03s (2.05%)</tspan></text></g>
<g id="node-UnmarshalVT" class="nd c02"><rect x="2509" y="2027" width="119" height="58"/><text class="f8" x="2568.5" y="2037"><tspan x="2568.5">payload</tspan><tspan x="2568.5" dy="11.7">(*Info_Nodes)</tspan><tspan x="2568.5" dy="11.7">UnmarshalVT</tspan><tspan x="2568.5" dy="11.7">0 of 0.02s (1.37%)</tspan></text></g>
<g id="node-checkFrameOrder" class="nd c01"><rect x="2651" y="2019" width="159" height="74.5"/><text class="f11" x="2730.5" y="2030.8"><tspan x="2730.5">http2</tspan><tspan x="2730.5" dy="16">(*Framer)</tspan><tspan x="2730.5" dy="16">checkFrameOrder</tspan><tspan x="2730.5" dy="16">0.01s (0.68%)</tspan></text></g>
<g id="node-fastimeupdate" class="nd c09"><rect x="3048.6" y="2027" width="118.4" height="58"/><text class="f8" x="3107.8" y="2037"><tspan x="3107.8">fastime</tspan><tspan x="3107.8" dy="11.7">(*fastime)</tspan><tspan x="3107.8" dy="11.7">update</tspan><tspan x="3107.8" dy="11.7">0 of 0.09s (6.16%)</tspan></text></g>
<g id="node-selectgo" class="nd c07"><rect x="3192" y="2010.6" width="178.7" height="90.4"/><text class="f14" x="3281.3" y="2023.9"><tspan x="3281.3">runtime</tspan><tspan x="3281.3" dy="20.3">selectgo</tspan><tspan x="3281.3" dy="20.3">0.05s (3.42%)</tspan><tspan x="3281.3" dy="20.3">of 0.07s (4.79%)</tspan></text></g>
<g id="node-logWarn" class="nd c02"><rect x="1378" y="2190" width="118.7" height="48"/><text class="f8" x="1437.3" y="2200.8"><tspan x="1437.3">log</tspan><tspan x="1437.3" dy="11.7">Warn</tspan><tspan x="1437.3" dy="11.7">0 of 0.02s (1.37%)</tspan></text></g>
<g id="node-handle" class="nd c03"><rect x="1520" y="2185" width="119" height="59"/><text class="f8" x="1579.5" y="2195.5"><tspan x="1579.5">transport</tspan><tspan x="1579.5" dy="11.7">(*loopyWriter)</tspan><tspan x="1579.5" dy="11.7">handle</tspan><tspan x="1579.5" dy="11.7">0 of 0.03s (2.05%)</tspan></text></g>
<g id="node-connWrite" class="nd c19"><rect x="1663" y="2185" width="127" height="59"/><text class="f8" x="1726.5" y="2195.5"><tspan x="1726.5">net</tspan><tspan x="1726.5" dy="11.7">(*conn)</tspan><tspan x="1726.5" dy="11.7">Write</tspan><tspan x="1726.5" dy="11.7">0 of 0.19s (13.01%)</tspan></text></g>
<g id="node-ReadAtLeast" class="nd c06"><rect x="2051" y="2190.5" width="119" height="48.5"/><text class="f8" x="2110.5" y="2201.5"><tspan x="2110.5">io</tspan><tspan x="2110.5" dy="11.7">ReadAtLeast</tspan><tspan x="2110.5" dy="11.7">0 of 0.06s (4.11%)</tspan></text></g>
<g id="node-HeaderBlockFragment" class="nd c01"><rect x="2194" y="2177" width="194" height="75"/><text class="f11" x="2291" y="2189"><tspan x="2291">http2</tspan><tspan x="2291" dy="16">(*HeadersFrame)</tspan><tspan x="2291" dy="16">HeaderBlockFragment</tspan><tspan x="2291" dy="16">0.01s (0.68%)</tspan></text></g>
<g id="node-doCall" class="nd c02"><rect x="2411" y="2185" width="119" height="59"/><text class="f8" x="2470.5" y="2195.5"><tspan x="2470.5">singleflight</tspan><tspan x="2470.5" dy="11.7">(*Group)</tspan><tspan x="2470.5" dy="11.7">doCall</tspan><tspan x="2470.5" dy="11.7">0 of 0.02s (1.37%)</tspan></text></g>
<g id="node-growslice" class="nd c03"><rect x="2554" y="2190.5" width="118.5" height="48"/><text class="f8" x="2613.2" y="2201.3"><tspan x="2613.2">runtime</tspan><tspan x="2613.2" dy="11.7">growslice</tspan><tspan x="2613.2" dy="11.7">0 of 0.03s (2.05%)</tspan></text></g>
<g id="node-newobject" class="nd c07"><rect x="2697" y="2177" width="144" height="75"/><text class="f11" x="2769" y="2189"><tspan x="2769">runtime</tspan><tspan x="2769" dy="16">newobject</tspan><tspan x="2769" dy="16">0.01s (0.68%)</tspan><tspan x="2769" dy="16">of 0.07s (4.79%)</tspan></text></g>
<g id="node-store" class="nd c08"><rect x="3036" y="2169" width="144" height="91"/><text class="f11" x="3108" y="2181"><tspan x="3108">fastime</tspan><tspan x="3108" dy="16">(*fastime)</tspan><tspan x="3108" dy="16">store</tspan><tspan x="3108" dy="16">0.01s (0.68%)</tspan><tspan x="3108" dy="16">of 0.08s (5.48%)</tspan></text></g>
<g id="node-WriteField" class="nd c02"><rect x="1494" y="2355" width="145" height="90"/><text class="f11" x="1566.5" y="2366.5"><tspan x="1566.5">hpack</tspan><tspan x="1566.5" dy="16">(*Encoder)</tspan><tspan x="1566.5" dy="16">WriteField</tspan><tspan x="1566.5" dy="16">0.01s (0.68%)</tspan><tspan x="1566.5" dy="16">of 0.02s (1.37%)</tspan></text></g>
<g id="node-pollWrite" class="nd c21"><rect x="1663" y="2370.7" width="127" height="58.3"/><text class="f8" x="1726.5" y="2380.8"><tspan x="1726.5">poll</tspan><tspan x="1726.5" dy="11.7">(*FD)</tspan><tspan x="1726.5" dy="11.7">Write</tspan><tspan x="1726.5" dy="11.7">0 of 0.21s (14.38%)</tspan></text></g>
<g id="node-enqueue" class="nd c01"><rect x="1814" y="2362.7" width="150" height="74.3"/><text class="f11" x="1889" y="2374.4"><tspan x="1889">transport</tspan><tspan x="1889" dy="16">(*outStreamList)</tspan><tspan x="1889" dy="16">enqueue</tspan><tspan x="1889" dy="16">0.01s (0.68%)</tspan></text></g>
<g id="node-pollRead" class="nd c05"><rect x="2038" y="2354.6" width="145" height="90.4"/><text class="f11" x="2110.5" y="2366.3"><tspan x="2110.5">poll</tspan><tspan x="2110.5" dy="16">(*FD)</tspan><tspan x="2110.5" dy="16">Read</tspan><tspan x="2110.5" dy="16">0.01s (0.68%)</tspan><tspan x="2110.5" dy="16">of 0.05s (3.42%)</tspan></text></g>
<g id="node-updateWindow" class="nd c01"><rect x="2206.5" y="2362.8" width="133.5" height="74.2"/><text class="f11" x="2273.2" y="2374.4"><tspan x="2273.2">transport</tspan><tspan x="2273.2" dy="16">(*http2Client)</tspan><tspan x="2273.2" dy="16">updateWindow</tspan><tspan x="2273.2" dy="16">0.01s (0.68%)</tspan></text></g>
<g id="node-lookupIP" class="nd c02"><rect x="2391" y="2371" width="119" height="58"/><text class="f8" x="2450.5" y="2381"><tspan x="2450.5">net</tspan><tspan x="2450.5" dy="11.7">(*Resolver)</tspan><tspan x="2450.5" dy="11.7">lookupIP</tspan><tspan x="2450.5" dy="11.7">0 of 0.02s (1.37%)</tspan></text></g>
<g id="node-mallocgc" class="nd c12"><rect x="2686" y="2357.4" width="166.6" height="85.4"/><text class="f13" x="2769.3" y="2370.3"><tspan x="2769.3">runtime</tspan><tspan x="2769.3" dy="18.9">mallocgc</tspan><tspan x="2769.3" dy="18.9">0.04s (2.74%)</tspan><tspan x="2769.3" dy="18.9">of 0.12s (8.22%)</tspan></text></g>
<g id="node-AppendFormat" class="nd c04"><rect x="3025" y="2347.6" width="166" height="104.1"/><text class="f13" x="3108" y="2360.4"><tspan x="3108">time</tspan><tspan x="3108" dy="18.9">Time</tspan><tspan x="3108" dy="18.9">AppendFormat</tspan><tspan x="3108" dy="18.9">0.03s (2.05%)</tspan><tspan x="3108" dy="18.9">of 0.04s (2.74%)</tspan></text></g>
<g id="node-ignoringEINTRIO" class="nd c25"><rect x="1663" y="2553.6" width="127" height="47.8"/><text class="f8" x="1726.5" y="2564.3"><tspan x="1726.5">poll</tspan><tspan x="1726.5" dy="11.7">ignoringEINTRIO</tspan><tspan x="1726.5" dy="11.7">0 of 0.25s (17.12%)</tspan></text></g>
<g id="node-connClose" class="nd c03"><rect x="1895" y="2547.6" width="119" height="58.4"/><text class="f8" x="1954.5" y="2557.8"><tspan x="1954.5">net</tspan><tspan x="1954.5" dy="11.7">(*conn)</tspan><tspan x="1954.5" dy="11.7">Close</tspan><tspan x="1954.5" dy="11.7">0 of 0.03s (2.05%)</tspan></text></g>
<g id="node-step" class="nd c02"><rect x="2347.8" y="2540" width="144" height="74.6"/><text class="f11" x="2419.8" y="2551.8"><tspan x="2419.8">runtime</tspan><tspan x="2419.8" dy="16">step</tspan><tspan x="2419.8" dy="16">0.01s (0.68%)</tspan><tspan x="2419.8" dy="16">of 0.02s (1.37%)</tspan></text></g>
<g id="node-systemstack" class="nd c05"><rect x="2516" y="2540" width="144" height="74.6"/><text class="f11" x="2588" y="2551.8"><tspan x="2588">runtime</tspan><tspan x="2588" dy="16">systemstack</tspan><tspan x="2588" dy="16">0.01s (0.68%)</tspan><tspan x="2588" dy="16">of 0.05s (3.42%)</tspan></text></g>
<g id="node-heapBitsSetType" class="nd c03"><rect x="2683.7" y="2544" width="171" height="67"/><text class="f13" x="2769.2" y="2557.1"><tspan x="2769.2">runtime</tspan><tspan x="2769.2" dy="18.9">heapBitsSetType</tspan><tspan x="2769.2" dy="18.9">0.03s (2.05%)</tspan></text></g>
<g id="node-memclrNoHeapPointers" class="nd c02"><rect x="2878" y="2545.6" width="216.7" height="62.9"/><text class="f12" x="2986.3" y="2558.1"><tspan x="2986.3">runtime</tspan><tspan x="2986.3" dy="17.4">memclrNoHeapPointers</tspan><tspan x="2986.3" dy="17.4">0.02s (1.37%)</tspan></text></g>
<g id="node-Syscall" class="nd c28"><rect x="1603" y="2702.7" width="246.8" height="106.3"/><text class="f22" x="1726.4" y="2722.4"><tspan x="1726.4">syscall</tspan><tspan x="1726.4" dy="32">Syscall</tspan><tspan x="1726.4" dy="32">0.28s (19.18%)</tspan></text></g>
<g id="node-tryAlloc" class="nd c01"><rect x="2443.7" y="2718.7" width="133.3" height="74.3"/><text class="f11" x="2510.3" y="2730.4"><tspan x="2510.3">runtime</tspan><tspan x="2510.3" dy="16">(*gcBitsArena)</tspan><tspan x="2510.3" dy="16">tryAlloc</tspan><tspan x="2510.3" dy="16">0.01s (0.68%)</tspan></text></g>
<g id="node-fixalloc" class="nd c01"><rect x="2601" y="2718.7" width="126" height="74.3"/><text class="f11" x="2664" y="2730.4"><tspan x="2664">runtime</tspan><tspan x="2664" dy="16">(*fixalloc)</tspan><tspan x="2664" dy="16">alloc</tspan><tspan x="2664" dy="16">0.01s (0.68%)</tspan></text></g>
</svg>
